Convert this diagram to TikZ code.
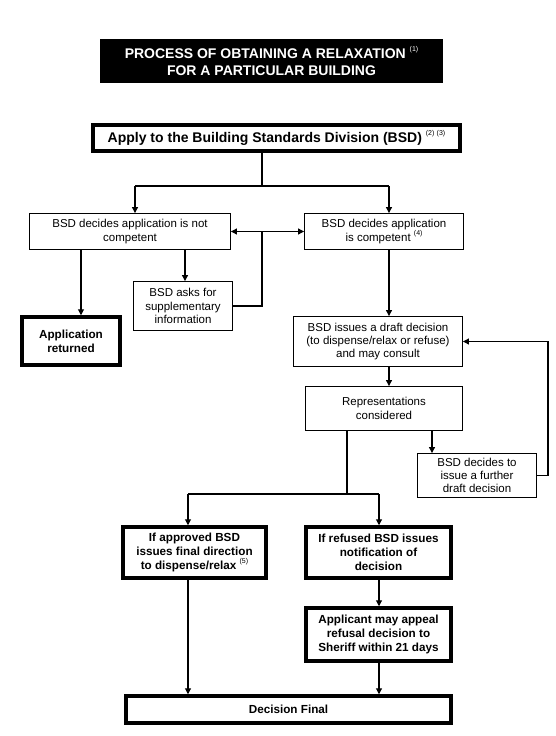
\documentclass[tikz,border=0pt]{standalone}
\usepackage{fontspec}
\setmainfont{Liberation Sans}
\usetikzlibrary{arrows.meta}
\newcommand{\fnref}[1]{\raisebox{0.9ex}{\mdseries\fontsize{7}{8}\selectfont #1}}
\begin{document}
\begin{tikzpicture}[x=1pt,y=-1pt,
  thinbox/.style={draw, line width=0.9pt, align=center, inner sep=0pt, font=\fontsize{11.5}{13.3}\selectfont},
  thickbox/.style={draw, line width=3.5pt, align=center, inner sep=0pt, font=\bfseries\fontsize{11.7}{13.8}\selectfont},
  titlebox/.style={fill=black, text=white, align=center, inner sep=0pt, font=\bfseries\fontsize{14}{17}\selectfont},
  conn/.style={line width=1.1pt},
  arr/.style={conn, -{Triangle[length=6pt,width=6pt]}},
  darr/.style={conn, {Triangle[length=6pt,width=6pt]}-{Triangle[length=6pt,width=6pt]}},
]
\useasboundingbox (0,0) rectangle (556,736);

\node[titlebox, minimum width=343pt, minimum height=44pt] (title) at (271.5,61)
  {PROCESS OF OBTAINING A RELAXATION \fnref{(1)}\\FOR A PARTICULAR BUILDING};

\node[thickbox, font=\bfseries\fontsize{14}{16}\selectfont, minimum width=367pt, minimum height=26pt] (apply) at (276.5,138)
  {Apply to the Building Standards Division (BSD) \fnref{(2)}\,\fnref{(3)}};

\node[thinbox, minimum width=201pt, minimum height=36pt] (notcomp) at (130,231.5)
  {BSD decides application is not\\competent};
\node[thinbox, minimum width=159pt, minimum height=36pt] (comp) at (384,231.5)
  {BSD decides application\\is competent \fnref{(4)}};
\node[thinbox, minimum width=99pt, minimum height=49pt] (asks) at (183,306)
  {BSD asks for\\supplementary\\information};
\node[thickbox, minimum width=98pt, minimum height=48pt] (returned) at (71,341)
  {Application\\returned};
\node[thinbox, minimum width=169pt, minimum height=50pt] (draft) at (378,341.5)
  {BSD issues a draft decision\\(to dispense/relax or refuse)\\and may consult};
\node[thinbox, minimum width=157pt, minimum height=44pt] (rep) at (384,408.5)
  {Representations\\considered};
\node[thinbox, minimum width=119pt, minimum height=44pt] (further) at (477,475.5)
  {BSD decides to\\issue a further\\draft decision};
\node[thickbox, minimum width=143pt, minimum height=51pt] (approved) at (194.5,552.5)
  {If approved BSD\\issues final direction\\to dispense/relax \fnref{(5)}};
\node[thickbox, minimum width=145pt, minimum height=51pt] (refused) at (378.5,552.5)
  {If refused BSD issues\\notification of\\decision};
\node[thickbox, minimum width=145pt, minimum height=53pt] (appeal) at (378.5,634.5)
  {Applicant may appeal\\refusal decision to\\Sheriff within 21 days};
\node[thickbox, minimum width=325pt, minimum height=27pt] (final) at (288.5,709.5)
  {Decision Final};

% guide coordinates
\coordinate (xA) at (262,0);
\coordinate (xL) at (135,0);
\coordinate (xR) at (389,0);
\coordinate (xRet) at (81,0);
\coordinate (xAsk) at (185,0);
\coordinate (xFur) at (432,0);
\coordinate (xLoop) at (548,0);
\coordinate (xM) at (347,0);
\coordinate (xAp) at (188,0);
\coordinate (xRf) at (379,0);
\coordinate (yS) at (0,186);
\coordinate (yB) at (0,494);

\draw[conn] (apply.south -| xA) -- (xA |- yS);
\draw[conn] (xL |- yS) -- (xR |- yS);
\draw[arr] (xL |- yS) -- (notcomp.north -| xL);
\draw[arr] (xR |- yS) -- (comp.north -| xR);

\draw[darr] (notcomp.east) -- (comp.west);
\draw[conn] (asks.east) -| (xA |- notcomp.east);

\draw[arr] (notcomp.south -| xRet) -- (returned.north -| xRet);
\draw[arr] (notcomp.south -| xAsk) -- (asks.north -| xAsk);

\draw[arr] (comp.south -| xR) -- (draft.north -| xR);
\draw[arr] (draft.south -| xR) -- (rep.north -| xR);
\draw[arr] (rep.south -| xFur) -- (further.north -| xFur);
\draw[arr] (further.east) -| (xLoop |- draft.east) -- (draft.east);

\draw[conn] (rep.south -| xM) -- (xM |- yB);
\draw[conn] (xAp |- yB) -- (xRf |- yB);
\draw[arr] (xAp |- yB) -- (approved.north -| xAp);
\draw[arr] (xRf |- yB) -- (refused.north -| xRf);
\draw[arr] (refused.south -| xRf) -- (appeal.north -| xRf);
\draw[arr] (approved.south -| xAp) -- (final.north -| xAp);
\draw[arr] (appeal.south -| xRf) -- (final.north -| xRf);
\end{tikzpicture}
\end{document}
